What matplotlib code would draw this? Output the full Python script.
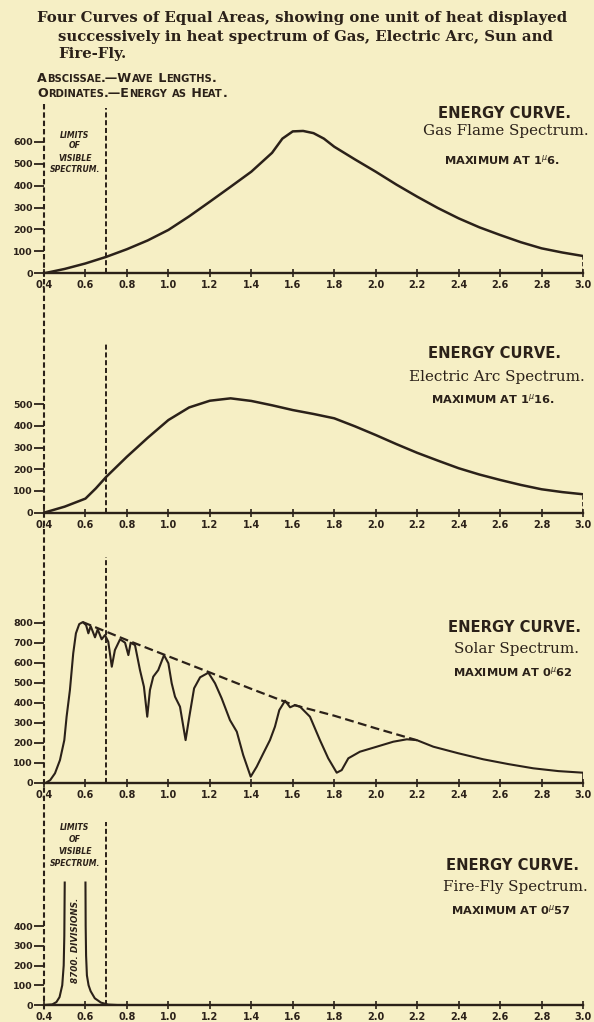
import numpy as np
import matplotlib
matplotlib.use("Agg")
import matplotlib.pyplot as plt
from matplotlib.font_manager import FontProperties

W, H = 594, 1022
BG = "#F6EFC5"
INK = "#2b2119"

# ---------------- data ----------------
x_ticks = [0.4, 0.6, 0.8, 1.0, 1.2, 1.4, 1.6, 1.8, 2.0, 2.2, 2.4, 2.6, 2.8, 3.0]
x_tick_labels = ["0.4", "0.6", "0.8", "1.0", "1.2", "1.4", "1.6", "1.8", "2.0",
                 "2.2", "2.4", "2.6", "2.8", "3.0"]
visible_limits = [0.4, 0.7]

gas_x = [0.4, 0.5, 0.6, 0.7, 0.8, 0.9, 1.0, 1.1, 1.2, 1.3, 1.4, 1.5, 1.55, 1.6,
         1.65, 1.7, 1.75, 1.8, 1.9, 2.0, 2.1, 2.2, 2.3, 2.4, 2.5, 2.6, 2.7, 2.8, 2.9, 3.0]
gas_y = [0, 20, 45, 75, 110, 150, 198, 260, 327, 395, 464, 550, 615, 648,
         650, 640, 615, 578, 520, 464, 405, 350, 298, 251, 210, 175, 142, 114, 95, 79]
gas_yticks = [0, 100, 200, 300, 400, 500, 600]

arc_x = [0.4, 0.5, 0.6, 0.65, 0.7, 0.8, 0.9, 1.0, 1.1, 1.2, 1.3, 1.4, 1.5, 1.6,
         1.7, 1.8, 1.9, 2.0, 2.1, 2.2, 2.3, 2.4, 2.5, 2.6, 2.7, 2.8, 2.9, 3.0]
arc_y = [0, 28, 65, 112, 165, 258, 345, 427, 485, 516, 527, 515, 495, 473,
         455, 435, 398, 358, 316, 276, 240, 205, 176, 151, 128, 108, 95, 85]
arc_yticks = [0, 100, 200, 300, 400, 500]

solar_x = [0.41, 0.43, 0.453, 0.477, 0.498, 0.509, 0.525, 0.541, 0.554, 0.570, 0.587,
           0.603, 0.614, 0.625, 0.646, 0.659, 0.678, 0.694, 0.710, 0.727, 0.742,
           0.767, 0.791, 0.807, 0.818, 0.839, 0.863, 0.882, 0.898, 0.911, 0.927,
           0.951, 0.979, 1.0, 1.016, 1.032, 1.056, 1.083, 1.101, 1.124, 1.153,
           1.193, 1.225, 1.257, 1.297, 1.330, 1.361, 1.397, 1.426, 1.458, 1.490,
           1.514, 1.535, 1.563, 1.587, 1.611, 1.635, 1.683, 1.731, 1.771, 1.812,
           1.836, 1.868, 1.924, 2.005, 2.085, 2.150, 2.198, 2.278, 2.399, 2.519,
           2.640, 2.760, 2.881, 3.0]
solar_y = [0, 13, 47, 113, 213, 330, 463, 647, 747, 793, 803,
           788, 747, 783, 727, 767, 717, 738, 705, 580, 663,
           717, 700, 638, 700, 688, 563, 480, 330, 463, 530,
           563, 638, 597, 497, 430, 380, 213, 330, 472, 527,
           550, 497, 422, 313, 255, 138, 30, 80, 147, 213,
           280, 363, 410, 377, 388, 380, 330, 213, 122, 50,
           63, 122, 155, 180, 205, 217, 213, 180, 147, 117,
           93, 72, 58, 50]
solar_env_x = [0.587, 0.8, 1.0, 1.2, 1.4, 1.6, 1.8, 2.0, 2.2]
solar_env_y = [803, 713, 632, 551, 469, 390, 335, 272, 212]
solar_yticks = [0, 100, 200, 300, 400, 500, 600, 700, 800]

firefly_x = [0.40, 0.44, 0.46, 0.475, 0.488, 0.495, 0.498, 0.50, np.nan,
             0.60, 0.601, 0.603, 0.607, 0.615, 0.625, 0.645, 0.675, 0.71, 0.75]
firefly_y = [0, 3, 15, 40, 100, 200, 350, 620, np.nan,
             620, 400, 250, 150, 100, 70, 34, 12, 2, 0]
firefly_yticks = [0, 100, 200, 300, 400]

titles = [("ENERGY CURVE.", "Gas Flame Spectrum.", r"MAXIMUM AT 1$^{\mu}$6."),
          ("ENERGY CURVE.", "Electric Arc Spectrum.", r"MAXIMUM AT 1$^{\mu}$16."),
          ("ENERGY CURVE.", "Solar Spectrum.", r"MAXIMUM AT 0$^{\mu}$62"),
          ("ENERGY CURVE.", "Fire-Fly Spectrum.", r"MAXIMUM AT 0$^{\mu}$57")]

# ---------------- layout (pixels) ----------------
X_LEFT, X_RIGHT = 44, 583
# (axis y px, top px, px per 100 units)
panels = [(273.3, 108, 21.9), (512.7, 342, 21.7), (782.7, 557, 20.0), (1005, 822, 19.75)]
title_pos = [(504, 113, 131, 160), (495, 353, 377, 399), (515, 627, 649, 672), (513, 865, 887, 910)]

plt.rcParams["font.family"] = ["DejaVu Sans"]
fig = plt.figure(figsize=(W / 100, H / 100), dpi=100, facecolor=BG)


def fx(x):
    return x / W


def fy(y):
    return 1 - y / H


DASH = (0, (2.6, 1.4))

axes = []
for (y0, top, s100) in panels:
    ymax = (y0 - top) / (s100 / 100.0)
    ax = fig.add_axes([fx(X_LEFT), fy(y0), fx(X_RIGHT) - fx(X_LEFT), (y0 - top) / H])
    ax.set_facecolor("none")
    ax.set_xlim(0.4, 3.0)
    ax.set_ylim(0, ymax)
    for sp in ["top", "right", "left"]:
        ax.spines[sp].set_visible(False)
    ax.spines["bottom"].set_linewidth(1.7)
    ax.spines["bottom"].set_color(INK)
    ax.set_xticks(x_ticks)
    ax.set_xticklabels(x_tick_labels)
    ax.tick_params(axis="x", direction="inout", length=6, width=1.2, colors=INK,
                   labelsize=7.0, pad=2)
    ax.tick_params(axis="y", direction="out", length=7.5, width=1.3, colors=INK,
                   labelsize=6.8, pad=0.5)
    ax.axvline(visible_limits[1], color=INK, lw=1.4, ls=DASH)
    axes.append(ax)

# overlay for the continuous left dashed line
ov = fig.add_axes([fx(X_LEFT), 0, fx(X_RIGHT) - fx(X_LEFT), 1])
ov.set_xlim(0.4, 3.0)
ov.set_ylim(H, 0)
ov.axis("off")
ov.set_facecolor("none")
ov.vlines(visible_limits[0], 104, 1012, color=INK, lw=1.5, ls=DASH, clip_on=False)

ax1, ax2, ax3, ax4 = axes
ax1.plot(gas_x, gas_y, color=INK, lw=1.8)
ax1.set_yticks(gas_yticks)
ax1.vlines(gas_x[-1], 0, gas_y[-1], color=INK, lw=1.2, ls=DASH)

ax2.plot(arc_x, arc_y, color=INK, lw=1.8)
ax2.set_yticks(arc_yticks)
ax2.vlines(arc_x[-1], 0, arc_y[-1], color=INK, lw=1.2, ls=DASH)

ax3.plot(solar_x, solar_y, color=INK, lw=1.5)
ax3.plot(solar_env_x, solar_env_y, color=INK, lw=1.6, ls=(0, (4, 2)))
ax3.set_yticks(solar_yticks)
ax3.vlines(solar_x[-1], 0, solar_y[-1], color=INK, lw=1.2)

ax4.plot(firefly_x, firefly_y, color=INK, lw=1.5)
ax4.set_yticks(firefly_yticks)
ax4.text(0.55, 330, "8700. DIVISIONS.", rotation=90, ha="center", va="center",
         fontsize=6.3, fontweight="bold", style="italic", color=INK)

for ax in axes:
    for lab in ax.get_xticklabels() + ax.get_yticklabels():
        lab.set_fontweight("bold")
        lab.set_color(INK)

# limits of visible spectrum labels
for ys in [(135, 146, 158, 170), (828, 840, 852, 864)]:
    for word, y in zip(["LIMITS", "OF", "VISIBLE", "SPECTRUM."], ys):
        fig.text(fx(75), fy(y), word, ha="center", va="center", fontsize=5.6,
                 fontweight="bold", style="italic", color=INK)

# panel titles
for (t1, t2, t3), (cx, y1, y2, y3) in zip(titles, title_pos):
    fig.text(fx(cx), fy(y1), t1, ha="center", va="center", fontsize=10.6,
             fontweight="bold", color=INK)
    fig.text(fx(cx + 2), fy(y2), t2, ha="center", va="center", fontsize=10.9,
             family="DejaVu Serif", color=INK)
    fig.text(fx(cx - 2), fy(y3), t3, ha="center", va="center", fontsize=8.2,
             fontweight="bold", color=INK)

# header
hdr = dict(fontsize=10.7, fontweight="bold", family="DejaVu Serif", color=INK, va="center")
fig.text(fx(37), fy(18), "Four Curves of Equal Areas, showing one unit of heat displayed", **hdr)
fig.text(fx(58), fy(37), "successively in heat spectrum of Gas, Electric Arc, Sun and", **hdr)
fig.text(fx(58), fy(54), "Fire-Fly.", **hdr)

renderer = fig.canvas.get_renderer()


def advance(txt, size):
    fp = FontProperties(family="DejaVu Sans", weight="bold", size=size)
    w1, _, _ = renderer.get_text_width_height_descent("I" + txt + "I", fp, ismath=False)
    w0, _, _ = renderer.get_text_width_height_descent("II", fp, ismath=False)
    return w1 - w0


def smallcaps(x_px, y_px, s, big=9.1, small=7.2):
    runs = []
    for ch in s:
        kind = "s" if ch.islower() else "b"
        if runs and runs[-1][0] == kind:
            runs[-1][1] += ch
        else:
            runs.append([kind, ch])
    x = x_px
    for kind, txt in runs:
        size = small if kind == "s" else big
        txt = txt.upper()
        fig.text(fx(x), fy(y_px), txt, fontsize=size, fontweight="bold",
                 family="DejaVu Sans", color=INK, va="baseline", ha="left")
        x += advance(txt, size)


smallcaps(37, 82, "Abscissae.\u2014Wave Lengths.")
smallcaps(37, 97, "Ordinates.\u2014Energy as Heat.")

fig.savefig("out.png", dpi=100, facecolor=BG)
